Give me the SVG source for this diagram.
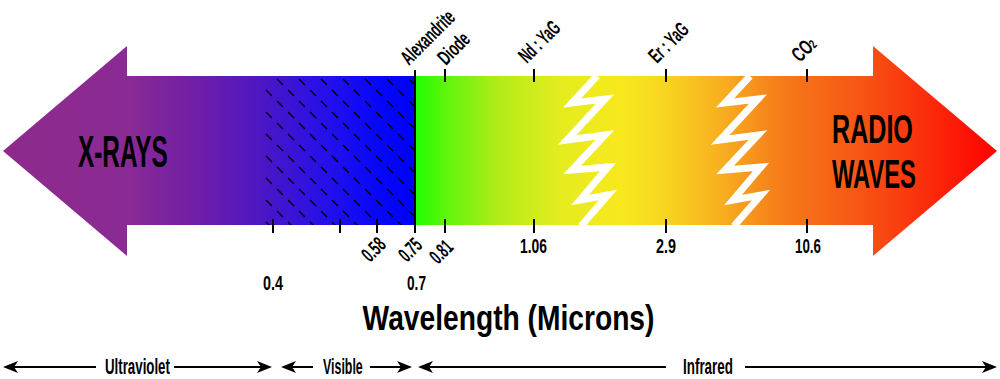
<svg xmlns="http://www.w3.org/2000/svg" width="1000" height="379" viewBox="0 0 1000 379">
<style>
  text { font-family: "Liberation Sans", Arial, sans-serif; fill: #000; font-weight: bold; }
  .lbl { font-size: 21px; }
  .num { font-size: 21px; }
  .mid { text-anchor: middle; }
  .big { font-size: 45px; }
  .big2 { font-size: 40px; }
  .axis { font-size: 35px; }
  .band { font-size: 22px; }
  .tick { stroke: #000; stroke-width: 2; fill: none; }
  .rule { stroke: #000; stroke-width: 2; fill: none; }
  .zig { stroke: #fff; stroke-width: 7; fill: none; stroke-linejoin: miter; stroke-miterlimit: 10; }
  .ah { fill: #000; }
</style>
<defs>
  <linearGradient id="spec" gradientUnits="userSpaceOnUse" x1="3" y1="0" x2="997" y2="0">
    <stop offset="0" stop-color="#8e2a8c"/>
    <stop offset="0.125" stop-color="#8a2a94"/>
    <stop offset="0.198" stop-color="#6e1ea8"/>
    <stop offset="0.264" stop-color="#4a16c6"/>
    <stop offset="0.329" stop-color="#2210ec"/>
    <stop offset="0.379" stop-color="#0606fc"/>
    <stop offset="0.4145" stop-color="#0000ff"/>
    <stop offset="0.4145" stop-color="#1eff00"/>
    <stop offset="0.4497" stop-color="#66f40c"/>
    <stop offset="0.5" stop-color="#b4ec18"/>
    <stop offset="0.5604" stop-color="#e4ec1e"/>
    <stop offset="0.6207" stop-color="#f8e81e"/>
    <stop offset="0.661" stop-color="#f8d820"/>
    <stop offset="0.7213" stop-color="#f8b020"/>
    <stop offset="0.7817" stop-color="#f67c1a"/>
    <stop offset="0.8722" stop-color="#f85014"/>
    <stop offset="1" stop-color="#ff0000"/>
  </linearGradient>
  <pattern id="hatch" patternUnits="userSpaceOnUse" x="0" y="0" width="22" height="22">
    <path d="M2 2 L8 8 M13 13 L19 19" stroke="#000" stroke-width="1.3" fill="none"/>
  </pattern>
</defs>

<g id="spectrum-arrow">
  <polygon points="3,151 127,46 127,76 873,76 873,46 997,151 873,256 873,225 127,225 127,256" fill="url(#spec)"/>
  <rect x="265" y="76" width="150" height="149" fill="url(#hatch)"/>
  <polyline class="zig" points="597,76 572,103 605,99 567,140 605,135 572,170 608,167 580,200 608,195 581,226"/>
  <polyline class="zig" transform="translate(153,0)" points="597,76 572,103 605,99 567,140 605,135 572,170 608,167 580,200 608,195 581,226"/>
  <text class="big" transform="translate(78,167) scale(0.541,1)">X-RAYS</text>
  <text class="big2" transform="translate(832,143) scale(0.628,1)">RADIO</text>
  <text class="big2" transform="translate(832,188) scale(0.593,1)">WAVES</text>
</g>

<g id="ticks">
  <line class="tick" x1="415" y1="70" x2="415" y2="233"/>
  <line class="tick" x1="445" y1="69" x2="445" y2="82"/>
  <line class="tick" x1="534" y1="69" x2="534" y2="82"/>
  <line class="tick" x1="666" y1="69" x2="666" y2="82"/>
  <line class="tick" x1="807" y1="69" x2="807" y2="82"/>
  <line class="tick" x1="273" y1="219" x2="273" y2="233"/>
  <line class="tick" x1="340" y1="219" x2="340" y2="233"/>
  <line class="tick" x1="377" y1="219" x2="377" y2="233"/>
  <line class="tick" x1="445" y1="219" x2="445" y2="233"/>
  <line class="tick" x1="534" y1="219" x2="534" y2="233"/>
  <line class="tick" x1="666" y1="219" x2="666" y2="233"/>
  <line class="tick" x1="807" y1="219" x2="807" y2="233"/>
</g>

<g id="laser-labels">
  <text class="lbl" transform="translate(409,66) rotate(-45) scale(0.586,1)">Alexandrite</text>
  <text class="lbl" transform="translate(446,66) rotate(-45) scale(0.617,1)">Diode</text>
  <text class="lbl" transform="translate(527,64) rotate(-45) scale(0.564,1)">Nd : YaG</text>
  <text class="lbl" transform="translate(657,64) rotate(-45) scale(0.579,1)">Er : YaG</text>
  <text class="lbl" transform="translate(800,63) rotate(-45) scale(0.646,1)">CO<tspan font-size="13px">2</tspan></text>
</g>

<g id="wavelength-labels">
  <text class="num" transform="translate(370,263) rotate(-45) scale(0.59,1)">0.58</text>
  <text class="num" transform="translate(407,263) rotate(-45) scale(0.57,1)">0.75</text>
  <text class="num" transform="translate(438,265) rotate(-45) scale(0.57,1)">0.81</text>
  <text class="num mid" transform="translate(533.5,253) scale(0.66,1)">1.06</text>
  <text class="num mid" transform="translate(666,253) scale(0.685,1)">2.9</text>
  <text class="num mid" transform="translate(808,253) scale(0.636,1)">10.6</text>
  <text class="num mid" transform="translate(273,290) scale(0.685,1)">0.4</text>
  <text class="num mid" transform="translate(416.5,290) scale(0.65,1)">0.7</text>
  <text class="axis mid" transform="translate(508.5,330) scale(0.806,1)">Wavelength (Microns)</text>
</g>

<g id="connectors">
  <line class="rule" x1="14" y1="367" x2="96" y2="367"/>
  <line class="rule" x1="174" y1="367" x2="261" y2="367"/>
  <polygon class="ah" points="3,367 18,361 14,367 18,373"/>
  <polygon class="ah" points="272,367 257,361 261,367 257,373"/>
  <line class="rule" x1="292" y1="367" x2="313" y2="367"/>
  <line class="rule" x1="370" y1="367" x2="401" y2="367"/>
  <polygon class="ah" points="281,367 296,361 292,367 296,373"/>
  <polygon class="ah" points="412,367 397,361 401,367 397,373"/>
  <line class="rule" x1="429" y1="367" x2="666" y2="367"/>
  <line class="rule" x1="745" y1="367" x2="986" y2="367"/>
  <polygon class="ah" points="418,367 433,361 429,367 433,373"/>
  <polygon class="ah" points="997,367 982,361 986,367 982,373"/>
</g>

<g id="band-labels">
  <text class="band" transform="translate(105,374) scale(0.604,1)">Ultraviolet</text>
  <text class="band" transform="translate(323,374) scale(0.564,1)">Visible</text>
  <text class="band" transform="translate(683,374) scale(0.61,1)">Infrared</text>
</g>
</svg>
